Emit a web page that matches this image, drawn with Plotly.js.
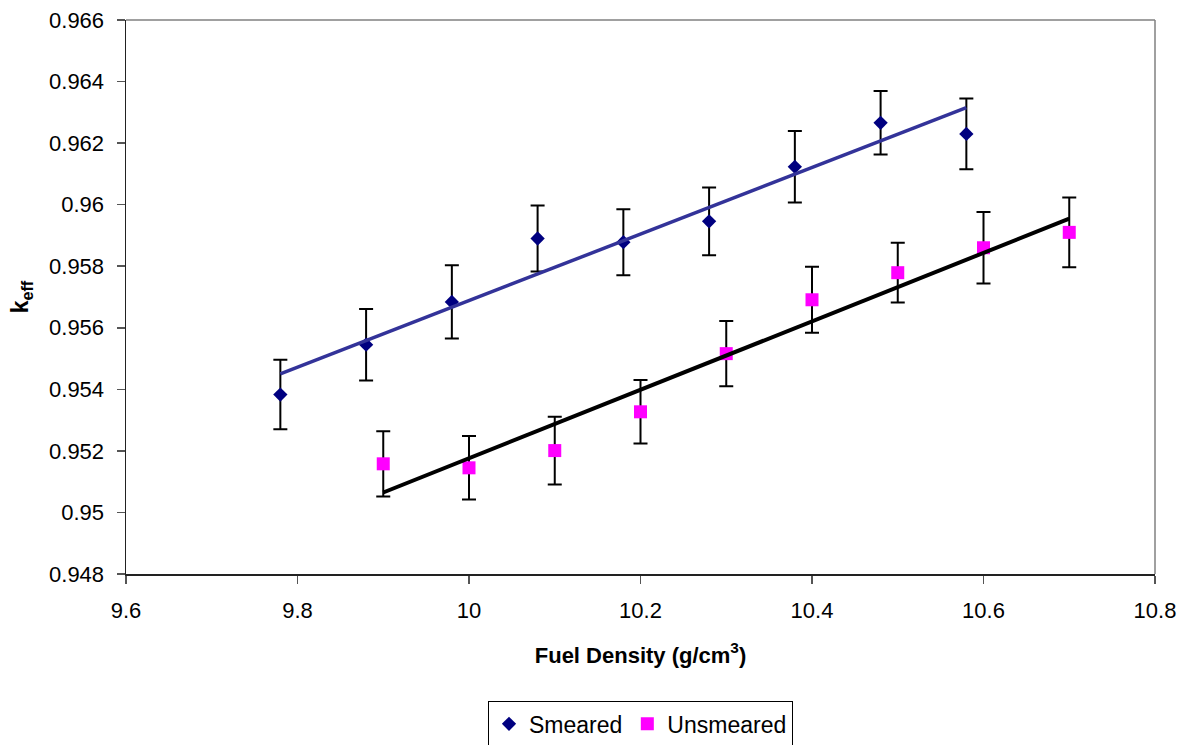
<!DOCTYPE html>
<html>
<head>
<meta charset="utf-8">
<script src="https://cdn.plot.ly/plotly-3.0.1.min.js"></script>
<style>html,body{margin:0;padding:0;background:#fff;}#chart{width:1183px;height:745px;}</style>
</head>
<body>
<div id="chart"></div>
<script>
// Data
const smearedX = [9.78, 9.88, 9.98, 10.08, 10.18, 10.28, 10.38, 10.48, 10.58];
const smearedY = [0.95383, 0.95545, 0.95684, 0.95890, 0.95878, 0.95946, 0.96123, 0.96266, 0.96230];
const smearedErr = [0.00113, 0.00116, 0.00119, 0.00107, 0.00107, 0.00110, 0.00116, 0.00103, 0.00115];

const unsmearedX = [9.9, 10.0, 10.1, 10.2, 10.3, 10.4, 10.5, 10.6, 10.7];
const unsmearedY = [0.95158, 0.95145, 0.95201, 0.95327, 0.95516, 0.95691, 0.95779, 0.95860, 0.95910];
const unsmearedErr = [0.00106, 0.00103, 0.00110, 0.00103, 0.00106, 0.00107, 0.00097, 0.00116, 0.00113];

const xTicks = [9.6, 9.8, 10, 10.2, 10.4, 10.6, 10.8];
const yTicks = [0.948, 0.95, 0.952, 0.954, 0.956, 0.958, 0.96, 0.962, 0.964, 0.966];

// Linear least-squares trendline over the first and last x of a series
function trend(xs, ys) {
  const n = xs.length;
  const mx = xs.reduce((a, b) => a + b, 0) / n;
  const my = ys.reduce((a, b) => a + b, 0) / n;
  let sxy = 0, sxx = 0;
  for (let i = 0; i < n; i++) { sxy += (xs[i] - mx) * (ys[i] - my); sxx += (xs[i] - mx) ** 2; }
  const m = sxy / sxx, b = my - m * mx;
  const x0 = xs[0], x1 = xs[n - 1];
  return { x: [x0, x1], y: [m * x0 + b, m * x1 + b] };
}
const tS = trend(smearedX, smearedY);
const tU = trend(unsmearedX, unsmearedY);

const FONT = 'Liberation Sans, Arial, sans-serif';

const traces = [
  {
    x: smearedX, y: smearedY, type: 'scatter', mode: 'markers', name: 'Smeared',
    marker: { symbol: 'diamond', size: 11, color: '#000080' },
    error_y: { type: 'data', array: smearedErr, visible: true, color: '#000', thickness: 2, width: 7 }
  },
  {
    x: unsmearedX, y: unsmearedY, type: 'scatter', mode: 'markers', name: 'Unsmeared',
    marker: { symbol: 'square', size: 13, color: '#FF00FF' },
    error_y: { type: 'data', array: unsmearedErr, visible: true, color: '#000', thickness: 2, width: 7 }
  },
  {
    x: tS.x, y: tS.y, type: 'scatter', mode: 'lines', showlegend: false, hoverinfo: 'skip',
    line: { color: '#333399', width: 3.5 }
  },
  {
    x: tU.x, y: tU.y, type: 'scatter', mode: 'lines', showlegend: false, hoverinfo: 'skip',
    line: { color: '#000000', width: 4 }
  }
];

const layout = {
  width: 1183, height: 745,
  paper_bgcolor: '#fff', plot_bgcolor: '#fff',
  margin: { l: 126, r: 28, t: 20, b: 171, autoexpand: false },
  font: { family: FONT, size: 22, color: '#000' },
  showlegend: true,
  legend: {
    orientation: 'h', x: 0.5, xanchor: 'center', y: -0.23, yanchor: 'top',
    bordercolor: '#000', borderwidth: 1, font: { size: 23, family: FONT },
    bgcolor: '#fff'
  },
  xaxis: {
    range: [9.6, 10.8], tickvals: xTicks, ticktext: xTicks.map(String),
    showgrid: false, zeroline: false, showline: true, linecolor: '#222', linewidth: 1.5,
    ticks: 'outside', ticklen: 8, tickcolor: '#555', tickwidth: 1.5,
    ticklabelstandoff: 8, automargin: false,
    tickfont: { size: 22, family: FONT },
    title: { text: '<b>Fuel Density (g/cm<sup>3</sup>)</b>', font: { size: 22, family: FONT }, standoff: 25 }
  },
  yaxis: {
    range: [0.948, 0.966], tickvals: yTicks, ticktext: yTicks.map(String),
    showgrid: false, zeroline: false, showline: true, linecolor: '#222', linewidth: 1.5,
    ticks: 'outside', ticklen: 8, tickcolor: '#555', tickwidth: 1.5,
    ticklabelstandoff: 8, automargin: false,
    tickfont: { size: 22, family: FONT },
    title: { text: '<b>k<sub>eff</sub></b>', font: { size: 23, family: FONT }, standoff: 14 }
  },
  shapes: [
    { type: 'line', xref: 'paper', yref: 'paper', x0: 0, x1: 1, y0: 1, y1: 1, line: { color: '#808080', width: 1.5 } },
    { type: 'line', xref: 'paper', yref: 'paper', x0: 1, x1: 1, y0: 0, y1: 1, line: { color: '#808080', width: 1.5 } }
  ]
};

Plotly.newPlot('chart', traces, layout, { displayModeBar: false, staticPlot: true });
</script>
</body>
</html>
